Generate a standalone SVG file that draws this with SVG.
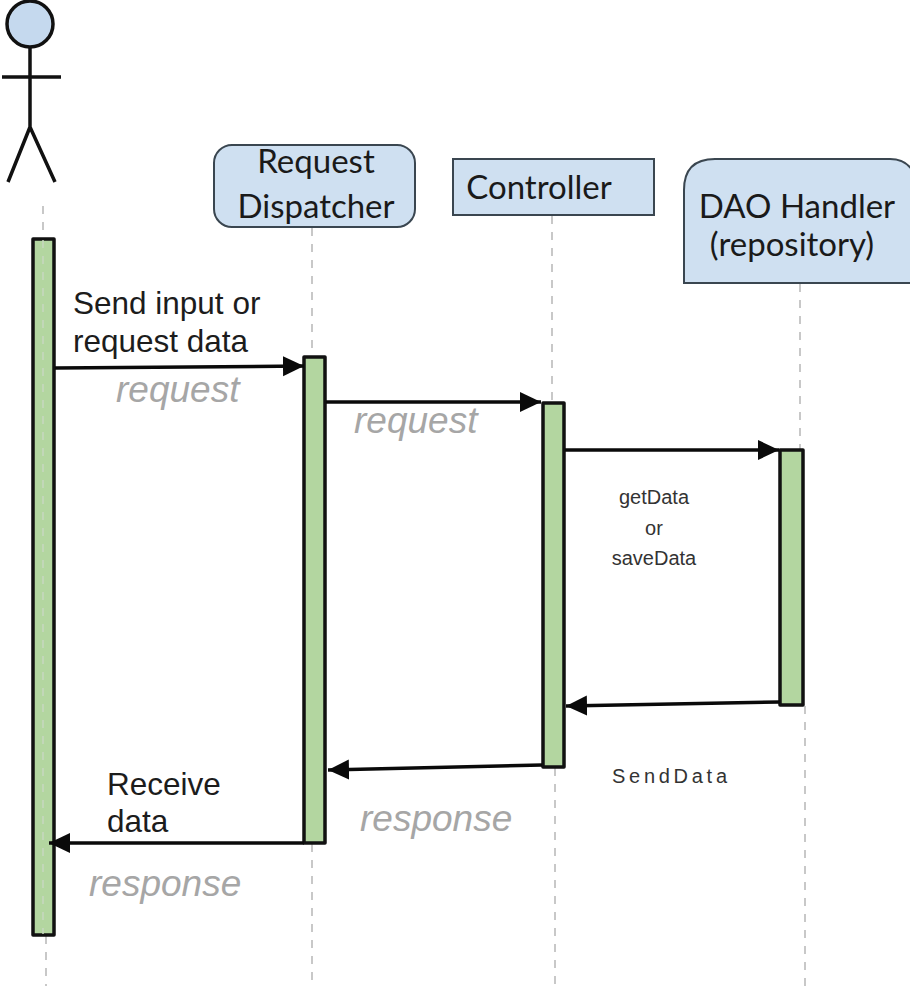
<svg xmlns="http://www.w3.org/2000/svg" width="910" height="986" viewBox="0 0 910 986">
<style>
.life{stroke:#c8c8c8;stroke-width:2;stroke-dasharray:8 8;fill:none}
.bar{fill:#b3d6a0;stroke:#111;stroke-width:3.5;stroke-linejoin:round}
.box{fill:#cfe0f1;stroke:#3a4650;stroke-width:2}
.msg{stroke:#0a0a0a;stroke-width:3.5;fill:none;marker-end:url(#arr)}
.ar{font-family:"Liberation Sans",Arial,sans-serif;fill:#1c1c1c;font-size:31.500px}
.big{font-family:Lato,"Open Sans",sans-serif;fill:#1a1a1a;font-size:33px;text-anchor:middle}
.gr{font-family:"Liberation Sans",Arial,sans-serif;font-style:italic;fill:#a6a6a6;font-size:37px}
.sm{font-family:"Liberation Sans",Arial,sans-serif;fill:#333;font-size:20px;text-anchor:middle}
</style>
<defs><marker id="arr" markerUnits="userSpaceOnUse" markerWidth="24" markerHeight="22" refX="21" refY="10" orient="auto"><path d="M0 0L21 10L0 20Z" fill="#0a0a0a"/></marker></defs>
<rect width="910" height="986" fill="#fff"/>
<g id="lifelines">
<path class="life" d="M43 206V238M46 936V986"/>
<path class="life" d="M312 228V356M312 844V986"/>
<path class="life" d="M552 216V402M555 768V986"/>
<path class="life" d="M800 284V450M805 706V986"/>
</g>
<g id="actor" fill="none" stroke="#111" stroke-width="3.500">
<circle cx="30" cy="24" r="23" fill="#c5d9ee"/>
<path d="M30 48V127M2 77H61M30 127L8 182M30 127L55 182"/>
</g>
<g id="request-dispatcher"><rect class="box" x="214" y="145" width="201" height="82" rx="18"/><text class="big" x="316" y="173">Request</text><text class="big" x="316" y="218">Dispatcher</text></g>
<g id="controller"><rect class="box" x="453" y="159" width="201" height="56"/><text class="big" x="539" y="199">Controller</text></g>
<g id="dao-handler"><path class="box" d="M684 283V190Q684 159 715 159H890Q905 159 912 170V283Z"/><text class="big" x="797" y="218">DAO Handler</text><text class="big" x="792" y="256">(repository)</text></g>
<g id="activation-user"><rect class="bar" x="33" y="239" width="21" height="696"/><path d="M43 240V934" stroke="#c8d8c0" stroke-width="1.500" stroke-dasharray="8 8" fill="none"/></g>
<g id="activation-dispatcher"><rect class="bar" x="304" y="357" width="21" height="486"/></g>
<g id="activation-controller"><rect class="bar" x="543" y="403" width="21" height="364"/></g>
<g id="activation-dao"><rect class="bar" x="780" y="450" width="23" height="255"/></g>
<g id="connectors">
<path class="msg" d="M55 368L304 366"/>
<path class="msg" d="M326 402H541"/>
<path class="msg" d="M565 450H779"/>
<path class="msg" d="M780 702L566 706"/>
<path class="msg" d="M542 765L328 770"/>
<path class="msg" d="M304 843H49"/>
</g>
<g id="labels">
<text class="ar" x="73" y="314">Send input or</text>
<text class="ar" x="73" y="352">request data</text>
<text class="gr" x="116" y="402">request</text>
<text class="gr" x="354" y="433">request</text>
<text class="sm" x="654" y="504">getData</text>
<text class="sm" x="654" y="535">or</text>
<text class="sm" x="654" y="565">saveData</text>
<text class="sm" x="669.500" y="783" font-size="21" textLength="115">SendData</text>
<text class="gr" x="360" y="831">response</text>
<text class="ar" x="107" y="795">Receive</text>
<text class="ar" x="107" y="832">data</text>
<text class="gr" x="89" y="896">response</text>
</g>
</svg>
